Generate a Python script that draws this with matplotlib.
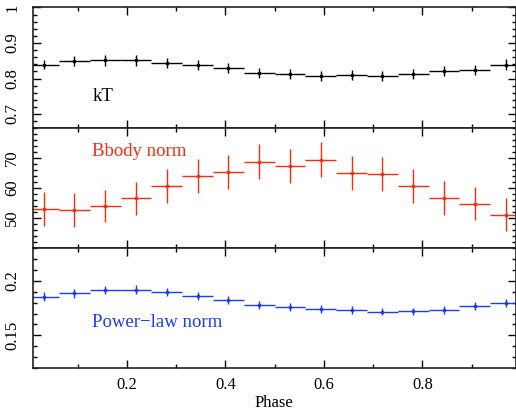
import matplotlib
matplotlib.use("Agg")
import matplotlib.pyplot as plt
import numpy as np
from matplotlib.ticker import MultipleLocator, FixedLocator, FuncFormatter

plt.rcParams['font.family'] = ['Liberation Serif', 'DejaVu Serif']

# ---- data ----
nbins = 16
phase = (np.arange(nbins) + 0.5) / nbins
phase_halfwidth = 0.5 / nbins

kT = [0.839, 0.849, 0.851, 0.851, 0.844, 0.837, 0.829, 0.816,
      0.814, 0.806, 0.811, 0.806, 0.813, 0.820, 0.824, 0.839]
kT_err = [0.013, 0.015, 0.015, 0.015, 0.014, 0.014, 0.014, 0.014,
          0.014, 0.014, 0.014, 0.014, 0.014, 0.014, 0.014, 0.015]

bbody = [53.0, 52.6, 53.9, 56.5, 60.6, 64.0, 65.3, 68.7,
         67.2, 69.3, 65.0, 64.6, 60.5, 56.7, 54.7, 51.1]
bbody_err = [5.6, 5.6, 5.4, 5.5, 5.7, 5.7, 5.7, 5.8,
             5.7, 5.8, 5.6, 5.7, 5.6, 5.6, 5.5, 5.5]

plnorm = [0.1855, 0.1885, 0.1915, 0.1920, 0.1894, 0.1857, 0.1827, 0.1780,
          0.1758, 0.1742, 0.1730, 0.1718, 0.1720, 0.1733, 0.1767, 0.1800]
plnorm_err = [0.0038, 0.0038, 0.0038, 0.0038, 0.0037, 0.0036, 0.0036, 0.0035,
              0.0035, 0.0035, 0.0035, 0.0035, 0.0035, 0.0035, 0.0036, 0.0036]

xticks_major = [0.2, 0.4, 0.6, 0.8]
kT_ticks = [0.7, 0.8, 0.9, 1.0]
bb_ticks = [50, 60, 70]
pl_ticks = [0.15, 0.2]

# ---- figure ----
W, H = 516, 411
fig = plt.figure(figsize=(W / 100, H / 100), dpi=100)
left = 32.5 / W
right = 515.5 / W
tops = [7.5, 127.7, 248.0]
ph = 120.2
axes = []
for t in tops:
    ax = fig.add_axes([left, 1 - (t + ph) / H, right - left, ph / H])
    axes.append(ax)

red = '#ff2a10'
blue = '#1a3cff'

specs = [
    (axes[0], kT, kT_err, 'black', (0.6615, 1.0), kT_ticks, 0.02, 'kT', (0.131, 0.749), 'left'),
    (axes[1], bbody, bbody_err, red, (40, 80), bb_ticks, 2, 'Bbody norm', (0.226, 72.2), 'center'),
    (axes[2], plnorm, plnorm_err, blue, (0.12, 0.23), pl_ticks, 0.01, 'Power\u2212law norm', (0.262, 0.1615), 'center'),
]

def fmt(v, pos):
    return '%g' % v

for ax, y, yerr, col, ylim, yt, ymin, label, lpos, ha in specs:
    ax.errorbar(phase, y, xerr=phase_halfwidth, yerr=yerr, fmt='s', ms=1.4,
                color=col, ecolor=col, elinewidth=1.0, capsize=0, mec=col, mfc=col)
    ax.set_xlim(0.0085, 0.989)
    ax.set_ylim(*ylim)
    ax.yaxis.set_major_locator(FixedLocator(yt))
    ax.yaxis.set_minor_locator(MultipleLocator(ymin))
    ax.yaxis.set_major_formatter(FuncFormatter(fmt))
    ax.xaxis.set_major_locator(FixedLocator(xticks_major))
    ax.xaxis.set_minor_locator(MultipleLocator(0.1))
    ax.tick_params(which='both', direction='in', top=True, right=True, colors='black')
    ax.tick_params(which='major', length=5.5, width=1.0)
    ax.tick_params(which='minor', length=2.7, width=1.0)
    ax.tick_params(axis='y', labelsize=12, pad=9, labelrotation=90)
    for lab in ax.get_yticklabels():
        lab.set_va('center')
    ax.tick_params(axis='x', labelsize=12, pad=6)
    for sp in ax.spines.values():
        sp.set_linewidth(1.2)
        sp.set_color('#222222')
    ax.text(lpos[0], lpos[1], label, color=col, fontsize=13.5, ha=ha, va='center')

for ax in axes[:2]:
    ax.tick_params(axis='x', labelbottom=False)

axes[2].set_xlabel('Phase', fontsize=12, labelpad=2)

fig.savefig('out.png', dpi=100)
